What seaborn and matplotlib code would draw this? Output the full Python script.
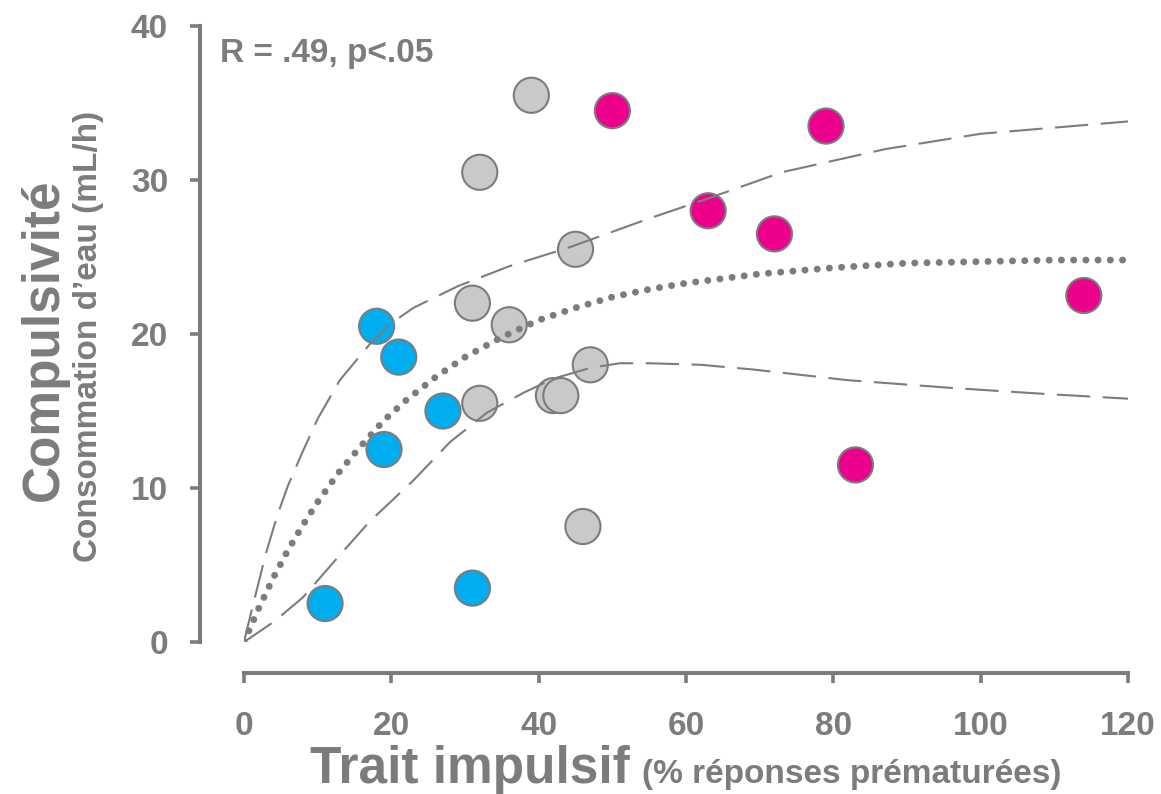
import numpy as np
import pandas as pd
import seaborn as sns
import matplotlib.pyplot as plt

# scatter values
blue_x = [11, 31, 18, 21, 27, 19]
blue_y = [2.5, 3.5, 20.5, 18.5, 15, 12.5]
grey_x = [39, 32, 45, 31, 36, 32, 42, 43, 47, 46]
grey_y = [35.5, 30.5, 25.5, 22, 20.6, 15.5, 16, 16, 18, 7.5]
pink_x = [50, 63, 72, 79, 83, 114]
pink_y = [34.5, 28, 26.5, 33.5, 11.5, 22.5]

# fitted curve and its bands
fit_x = [0, 2, 4, 6, 8, 10, 13, 16, 19, 22, 26, 30, 35, 40, 45, 50, 55, 60, 70, 80, 90, 100, 110, 120]
fit_y = [0, 2.2, 4.2, 6.0, 7.6, 9.1, 11.1, 12.8, 14.4, 15.7, 17.2, 18.5, 19.8, 20.9, 21.7, 22.4, 22.9,
         23.3, 23.9, 24.3, 24.6, 24.7, 24.8, 24.8]
up_x = [0, 1, 2, 3, 4.5, 6, 8, 10, 13, 17, 20, 23, 29, 36, 44, 55, 63, 73, 87, 100, 110, 120]
up_y = [0, 2, 3.9, 5.8, 8.2, 10.2, 12.4, 14.5, 17, 19.3, 20.7, 21.7, 23.1, 24.4, 25.6, 27.5, 28.8, 30.5,
        32.0, 33.0, 33.4, 33.8]
lo_x = [0, 4, 8, 12, 17, 23, 28, 33, 38, 42, 47, 51, 55, 62, 69, 82, 96, 109, 120]
lo_y = [0, 1.3, 2.9, 5.1, 7.8, 10.5, 13, 14.9, 16.2, 17.1, 17.8, 18.1, 18.1, 18.0, 17.7, 17.0, 16.5,
        16.1, 15.8]

x_ticks = [0, 20, 40, 60, 80, 100, 120]
y_ticks = [0, 10, 20, 30, 40]

GREY = '#7c7c7e'
palette = {'low': '#00aeef', 'mid': '#c8c9cb', 'high': '#ec008c'}

pts = pd.DataFrame({
    'x': blue_x + grey_x + pink_x,
    'y': blue_y + grey_y + pink_y,
    'grp': ['low'] * len(blue_x) + ['mid'] * len(grey_x) + ['high'] * len(pink_x),
})

sns.set_style('white')
plt.rcParams['font.family'] = ['Liberation Sans', 'DejaVu Sans']
plt.rcParams['font.weight'] = 'bold'

fig = plt.figure(figsize=(11.61, 7.94), dpi=100)
ax = fig.add_axes([0.2102, 0.1914, 0.7614, 0.7759])

sns.scatterplot(data=pts, x='x', y='y', hue='grp', palette=palette, s=640,
                edgecolor=GREY, linewidth=1.5, legend=False, ax=ax, zorder=2, clip_on=False)

sns.lineplot(x=fit_x, y=fit_y, ax=ax, color=GREY, lw=5, zorder=3,
             linestyle=(0, (0.01, 1.75)), dash_capstyle='round', sort=False)
for cx, cy in [(up_x, up_y), (lo_x, lo_y)]:
    sns.lineplot(x=cx, y=cy, ax=ax, color=GREY, lw=1.5, zorder=3,
                 linestyle=(0, (16, 6)), sort=False)

ax.set_xlim(0, 120)
ax.set_ylim(0, 40)
ax.set_xticks(x_ticks)
ax.set_yticks(y_ticks)
ax.set_xlabel('')
ax.set_ylabel('')

for side in ['top', 'right']:
    ax.spines[side].set_visible(False)
ax.spines['left'].set_position(('outward', 31.7))
ax.spines['bottom'].set_position(('outward', 22.3))
for side in ['left', 'bottom']:
    ax.spines[side].set_color(GREY)
    ax.spines[side].set_linewidth(2.9)

ax.tick_params(axis='both', colors=GREY, labelsize=24, length=7, width=2.6,
               direction='out', bottom=True, left=True)
ax.tick_params(axis='y', pad=16)
ax.tick_params(axis='x', pad=20)
for lab in ax.get_xticklabels() + ax.get_yticklabels():
    lab.set_fontweight('bold')
    lab.set_color(GREY)

fig.text(220 / 1161, 0.922, 'R = .49, p<.05', fontsize=24, color=GREY,
         fontweight='bold', va='baseline', ha='left')

fig.text(310 / 1161, 0.0139, 'Trait impulsif', fontsize=37, color=GREY,
         fontweight='bold', va='baseline', ha='left')
fig.text(642 / 1161, 0.0139, '(% réponses prématurées)', fontsize=24, color=GREY,
         fontweight='bold', va='baseline', ha='left')

fig.text(58 / 1161, 0.572, 'Compulsivité', fontsize=37, color=GREY, fontweight='bold',
         rotation=90, rotation_mode='anchor', ha='center', va='baseline')
fig.text(97 / 1161, 0.576, 'Consommation d\u2019eau (mL/h)', fontsize=24, color=GREY,
         fontweight='bold', rotation=90, rotation_mode='anchor', ha='center', va='baseline')

fig.savefig('out.png', dpi=100)
